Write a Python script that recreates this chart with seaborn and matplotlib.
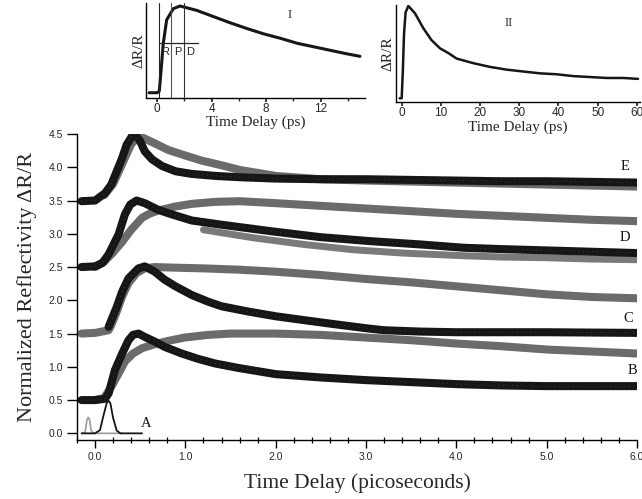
import numpy as np
import matplotlib
matplotlib.use("Agg")
import matplotlib.pyplot as plt
import seaborn as sns
from matplotlib.ticker import MultipleLocator

# --- Main panel traces (time in ps, normalized dR/R with offsets) ---
a_black_x = [-0.15, 0.0, 0.055, 0.09, 0.13, 0.15, 0.17, 0.20, 0.24, 0.28, 0.52]
a_black_y = [0.0, 0.0, 0.05, 0.25, 0.46, 0.49, 0.45, 0.23, 0.04, 0.0, 0.0]
a_gray_x = [-0.14, -0.11, -0.09, -0.075, -0.06, -0.045, -0.02, 0.30]
a_gray_y = [0.0, 0.02, 0.20, 0.24, 0.20, 0.05, 0.0, 0.0]

b_black_x = [-0.15, 0.0, 0.11, 0.15, 0.18, 0.22, 0.30, 0.37, 0.42, 0.48, 0.55, 0.66, 0.77, 0.96, 1.14, 1.33,
             1.6, 2.0, 2.5, 3.0, 3.5, 4.0, 4.5, 5.0, 5.5, 6.0]
b_black_y = [0.50, 0.50, 0.52, 0.60, 0.75, 0.95, 1.20, 1.40, 1.48, 1.50, 1.45, 1.38, 1.30, 1.20, 1.12, 1.05,
             0.98, 0.89, 0.84, 0.80, 0.77, 0.74, 0.72, 0.71, 0.71, 0.71]
b_gray_x = [0.0, 0.10, 0.18, 0.26, 0.33, 0.42, 0.52, 0.66, 0.81, 0.99, 1.25, 1.5, 2.0, 2.5, 3.0, 3.5, 4.0,
            4.5, 5.0, 5.5, 6.0]
b_gray_y = [0.50, 0.53, 0.70, 0.90, 1.08, 1.20, 1.28, 1.34, 1.39, 1.44, 1.48, 1.50, 1.50, 1.48, 1.44, 1.40, 1.35,
            1.31, 1.26, 1.23, 1.20]

c_black_x = [0.15, 0.18, 0.24, 0.30, 0.37, 0.48, 0.55, 0.66, 0.77, 0.89, 1.07, 1.25, 1.40, 1.7, 2.0, 2.27,
             2.6, 3.0, 3.2, 3.6, 4.0, 5.0, 6.0]
c_black_y = [1.60, 1.70, 1.90, 2.13, 2.33, 2.48, 2.51, 2.43, 2.31, 2.21, 2.08, 1.98, 1.91, 1.83, 1.76, 1.71,
             1.65, 1.58, 1.55, 1.53, 1.52, 1.52, 1.51]
c_gray_x = [-0.15, 0.0, 0.15, 0.18, 0.24, 0.30, 0.37, 0.46, 0.55, 0.66, 0.9, 1.2, 1.6, 2.0, 2.5, 3.0, 3.5,
            4.0, 4.5, 5.0, 5.5, 6.0]
c_gray_y = [1.50, 1.51, 1.55, 1.63, 1.83, 2.06, 2.26, 2.41, 2.48, 2.50, 2.49, 2.48, 2.46, 2.43, 2.38, 2.32, 2.27,
            2.21, 2.15, 2.09, 2.05, 2.03]

d_black_x = [-0.15, 0.0, 0.08, 0.15, 0.26, 0.33, 0.39, 0.46, 0.55, 0.70, 0.83, 1.07, 1.38, 1.94, 2.49, 3.04,
             3.6, 4.08, 4.5, 5.0, 5.5, 6.0]
d_black_y = [2.50, 2.51, 2.56, 2.69, 2.99, 3.29, 3.44, 3.50, 3.46, 3.36, 3.30, 3.20, 3.14, 3.04, 2.95, 2.89,
             2.84, 2.79, 2.77, 2.75, 2.73, 2.71]
d_gray_x = [0.0, 0.10, 0.20, 0.30, 0.40, 0.52, 0.60, 0.70, 0.89, 1.07, 1.33, 1.6, 2.0, 2.5, 3.0, 3.5, 4.0,
            4.5, 5.0, 5.5, 6.0]
d_gray_y = [2.50, 2.58, 2.72, 2.88, 3.06, 3.24, 3.30, 3.35, 3.41, 3.45, 3.48, 3.49, 3.46, 3.42, 3.38, 3.34, 3.30,
            3.27, 3.24, 3.21, 3.19]
d_cross_x = [1.2, 1.75, 2.31, 2.86, 3.41, 4.08, 4.5, 5.0, 5.5, 6.0]
d_cross_y = [3.06, 2.94, 2.84, 2.76, 2.71, 2.67, 2.65, 2.64, 2.62, 2.61]

e_black_x = [-0.15, 0.0, 0.11, 0.18, 0.24, 0.30, 0.35, 0.41, 0.44, 0.50, 0.55, 0.63, 0.74, 0.89, 1.07, 1.33,
             1.6, 2.0, 2.5, 3.0, 3.5, 4.0, 4.5, 5.0, 5.5, 6.0]
e_black_y = [3.49, 3.50, 3.61, 3.74, 3.94, 4.14, 4.34, 4.47, 4.50, 4.39, 4.24, 4.12, 4.02, 3.94, 3.90, 3.87,
             3.85, 3.83, 3.82, 3.82, 3.81, 3.80, 3.79, 3.79, 3.78, 3.77]
e_gray_x = [0.10, 0.20, 0.30, 0.40, 0.48, 0.52, 0.66, 0.81, 0.99, 1.18, 1.40, 1.6, 2.0, 2.5, 3.0, 4.0, 5.0, 6.0]
e_gray_y = [3.58, 3.75, 4.05, 4.35, 4.46, 4.45, 4.36, 4.26, 4.18, 4.10, 4.03, 3.96, 3.87, 3.82, 3.80, 3.77,
            3.74, 3.71]

curve_labels = ["A", "B", "C", "D", "E"]
label_x = [0.57, 5.95, 5.90, 5.87, 5.87]
label_y = [0.15, 0.95, 1.73, 2.95, 4.01]

# --- Inset I (0-15 ps) and inset II (0-60 ps) ---
ins1_x = [-0.6, 0.0, 0.15, 0.3, 0.44, 0.69, 1.18, 1.67, 2.9, 4.1, 5.3, 6.6, 7.8, 9.0, 10.3, 11.5, 12.7, 13.9, 14.9]
ins1_y = [0.0, 0.0, 0.02, 0.30, 0.57, 0.84, 0.97, 1.0, 0.95, 0.88, 0.81, 0.74, 0.68, 0.63, 0.57, 0.53, 0.49,
          0.45, 0.42]
ins2_x = [-0.5, 0.0, 0.3, 0.6, 1.0, 1.7, 3.4, 5.5, 7.6, 9.8, 11.9, 14.0, 18.3, 22.5, 26.8, 31.0, 35.3, 39.5,
          43.8, 48.0, 52.3, 56.5, 60.3]
ins2_y = [0.0, 0.0, 0.30, 0.70, 0.93, 1.0, 0.92, 0.76, 0.63, 0.54, 0.49, 0.43, 0.38, 0.34, 0.31, 0.29, 0.27,
          0.26, 0.24, 0.23, 0.22, 0.22, 0.21]

BLACK = "#161616"
GRAY = "#6b6b6b"
SERIF = ["Liberation Serif", "DejaVu Serif"]
SANS = ["Liberation Sans", "DejaVu Sans"]

sns.set_theme(style="ticks")
plt.rcParams['font.family'] = SANS

fig = plt.figure(figsize=(6.42, 4.99), dpi=100)
ax = fig.add_axes([77 / 642, 1 - 440 / 499, 560 / 642, 306 / 499])


def trace(ax, xs, ys, color, lw, speckle=False, **kw):
    sns.lineplot(x=xs, y=ys, ax=ax, color=color, linewidth=lw, sort=False, estimator=None,
                 solid_capstyle="round", solid_joinstyle="round", **kw)
    if speckle:
        # faint open-circle texture of the measured points
        ax.plot(xs, ys, color="white", lw=0.6, ls=(0, (0.6, 5)), alpha=0.35)


# gray (slow) traces first, black on top
for xs, ys in [(b_gray_x, b_gray_y), (c_gray_x, c_gray_y), (d_gray_x, d_gray_y), (e_gray_x, e_gray_y)]:
    trace(ax, xs, ys, GRAY, 5.8)
trace(ax, d_cross_x, d_cross_y, "#7a7a7a", 5.0)
for xs, ys in [(b_black_x, b_black_y), (c_black_x, c_black_y), (d_black_x, d_black_y), (e_black_x, e_black_y)]:
    trace(ax, xs, ys, BLACK, 5.8, speckle=True)
trace(ax, a_gray_x, a_gray_y, "#9a9a9a", 1.2)
trace(ax, a_black_x, a_black_y, BLACK, 1.3)

for lab, lx, ly in zip(curve_labels, label_x, label_y):
    ax.text(lx, ly, lab, family=SERIF, fontsize=10.5, ha="center", va="center", color="#111111")

ax.set_xlim(-0.2, 6.0)
ax.set_ylim(-0.1, 4.5)
ax.xaxis.set_minor_locator(MultipleLocator(0.2))
ax.set_xticks([0, 1, 2, 3, 4, 5, 6])
ax.set_xticklabels(["0.0", "1.0", "2.0", "3.0", "4.0", "5.0", "6.0"])
ax.set_yticks(np.arange(0, 4.51, 0.5))
ax.set_yticklabels([f"{v:.1f}" for v in np.arange(0, 4.51, 0.5)])
ax.tick_params(axis="x", which="major", direction="out", length=6, width=1, labelsize=7.5, pad=3, color="black")
ax.tick_params(axis="x", which="minor", direction="inout", length=5, width=0.9, color="black")
ax.tick_params(axis="y", which="major", direction="out", length=7, width=1, labelsize=7.5, pad=3, color="black")
for s in ["top", "right"]:
    ax.spines[s].set_visible(False)
for s in ["left", "bottom"]:
    ax.spines[s].set_color("black")
    ax.spines[s].set_linewidth(1.0)
ax.set_facecolor("none")
ax.set_xlabel("Time Delay (picoseconds)", family=SERIF, fontsize=15.5, labelpad=8)
ax.set_ylabel("Normalized Reflectivity \u0394R/R", family=SERIF, fontsize=16, labelpad=8)

# --- Inset I ---
ax1 = fig.add_axes([146.4 / 642, 1 - 97.5 / 499, 219 / 642, 94.5 / 499])
trace(ax1, ins1_x, ins1_y, BLACK, 2.2)
ax1.set_xlim(-0.8, 15.3)
ax1.set_ylim(-0.055, 1.035)
for vx, vc in [(0.15, "#222222"), (1.0, "#555555"), (1.97, "#333333")]:
    ax1.plot([vx, vx], [-0.05, 1.035], color=vc, lw=0.8)
ax1.plot([0.2, 3.0], [0.57, 0.57], color="#222222", lw=0.9)
for lab, lx in zip(["R", "P", "D"], [0.55, 1.5, 2.45]):
    ax1.text(lx, 0.47, lab, fontsize=8, ha="center", va="center", family=SANS)
ax1.text(9.7, 0.9, "I", family=SERIF, fontsize=9, ha="center", va="center")
ax1.set_xticks([0, 4, 8, 12])
ax1.xaxis.set_minor_locator(MultipleLocator(2))
ax1.set_yticks([])
ax1.tick_params(axis="x", which="major", direction="out", length=3, labelsize=8.5, pad=1)
ax1.tick_params(axis="x", which="minor", direction="out", length=2.5)
ax1.set_xlabel("Time Delay (ps)", family=SERIF, fontsize=11, labelpad=0)
ax1.set_ylabel("\u0394R/R", family=SERIF, fontsize=11, labelpad=1)

# --- Inset II ---
ax2 = fig.add_axes([396 / 642, 1 - 101.7 / 499, 244 / 642, 96.7 / 499])
trace(ax2, ins2_x, ins2_y, BLACK, 1.8)
ax2.set_xlim(-1.45, 60.8)
ax2.set_ylim(-0.037, 1.01)
ax2.text(27.3, 0.81, "II", family=SERIF, fontsize=9, ha="center", va="center")
ax2.set_xticks([0, 10, 20, 30, 40, 50, 60])
ax2.set_yticks([])
ax2.tick_params(axis="x", which="major", direction="out", length=3, labelsize=8.5, pad=1)
ax2.set_xlabel("Time Delay (ps)", family=SERIF, fontsize=11, labelpad=1)
ax2.set_ylabel("\u0394R/R", family=SERIF, fontsize=11, labelpad=1)

for a in (ax1, ax2):
    for s in ["top", "right"]:
        a.spines[s].set_visible(False)
    for s in ["left", "bottom"]:
        a.spines[s].set_color("black")
        a.spines[s].set_linewidth(1.0)
    a.set_facecolor("none")

fig.savefig("out.png", dpi=100)
